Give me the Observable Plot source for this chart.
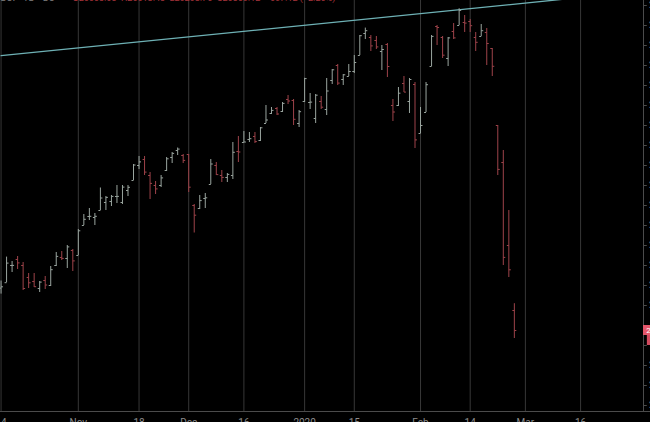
<!DOCTYPE html>
<html><head><meta charset="utf-8">
<script src="https://cdn.jsdelivr.net/npm/d3@7"></script>
<script src="https://cdn.jsdelivr.net/npm/@observablehq/plot@0.6"></script>
<style>
html,body{margin:0;padding:0;background:#000;overflow:hidden;}
#chart svg{display:block;background:#000;}
</style></head><body><div id="chart"></div>
<script>
// Daily bars (trading days), Oct 14 2019 – Feb 27 2020
const dates = ["2019-10-14","2019-10-15","2019-10-16","2019-10-17","2019-10-18","2019-10-21","2019-10-22","2019-10-23","2019-10-24","2019-10-25",
"2019-10-28","2019-10-29","2019-10-30","2019-10-31","2019-11-01","2019-11-04","2019-11-05","2019-11-06","2019-11-07","2019-11-08",
"2019-11-11","2019-11-12","2019-11-13","2019-11-14","2019-11-15","2019-11-18","2019-11-19","2019-11-20","2019-11-21","2019-11-22",
"2019-11-25","2019-11-26","2019-11-27","2019-11-29","2019-12-02","2019-12-03","2019-12-04","2019-12-05","2019-12-06","2019-12-09",
"2019-12-10","2019-12-11","2019-12-12","2019-12-13","2019-12-16","2019-12-17","2019-12-18","2019-12-19","2019-12-20","2019-12-23",
"2019-12-24","2019-12-26","2019-12-27","2019-12-30","2019-12-31","2020-01-02","2020-01-03","2020-01-06","2020-01-07","2020-01-08",
"2020-01-09","2020-01-10","2020-01-13","2020-01-14","2020-01-15","2020-01-16","2020-01-17","2020-01-21","2020-01-22","2020-01-23",
"2020-01-24","2020-01-27","2020-01-28","2020-01-29","2020-01-30","2020-01-31","2020-02-03","2020-02-04","2020-02-05","2020-02-06",
"2020-02-07","2020-02-10","2020-02-11","2020-02-12","2020-02-13","2020-02-14","2020-02-18","2020-02-19","2020-02-20","2020-02-21",
"2020-02-24","2020-02-25","2020-02-26","2020-02-27"];
const open = [26774,26828,27000,27060,27000,26880,26840,26770,26850,26800,
27000,27080,27070,27150,27100,27400,27490,27480,27550,27630,
27640,27690,27630,27750,27850,28000,28060,27900,27800,27800,
27950,28080,28150,28100,28110,27600,27570,27670,27810,28000,
27900,27880,27900,28140,28230,28260,28290,28250,28420,28520,
28570,28540,28660,28650,28420,28640,28630,28470,28640,28560,
28850,29000,28860,28890,28940,29100,29320,29280,29250,29140,
29210,28600,28600,28820,28640,28810,28320,28530,28990,29390,
29280,29070,29340,29400,29430,29440,29280,29290,29330,29170,
28400,28030,27200,26550];
const high = [26845,27084,27040,27090,27030,26920,26920,26840,26890,26990,
27130,27140,27200,27160,27360,27510,27570,27520,27775,27690,
27700,27800,27800,27800,28010,28090,28090,27930,27840,27900,
28080,28130,28175,28110,28110,27610,27700,27720,28060,28030,
27950,27920,28230,28290,28340,28330,28330,28380,28600,28580,
28580,28630,28700,28660,28550,28872,28720,28710,28690,28870,
28960,29010,28910,29010,29100,29300,29374,29300,29290,29200,
29220,28660,28780,28890,28870,28830,28580,28830,29300,29400,
29290,29280,29420,29568,29500,29460,29330,29410,29370,29170,
28400,28150,27550,26618];
const low = [26714,26828,26930,26960,26750,26770,26780,26730,26760,26790,
26990,27050,26970,26940,27100,27400,27450,27400,27550,27550,
27590,27620,27610,27690,27850,27960,27900,27660,27710,27780,
27940,28020,28100,28020,27730,27325,27560,27570,27810,27900,
27830,27830,27860,28030,28230,28230,28220,28240,28420,28510,
28500,28530,28610,28400,28380,28630,28560,28420,28560,28500,
28810,28800,28800,28890,28920,29100,29260,29140,29160,28950,
28880,28440,28590,28730,28520,28170,28320,28530,28990,29200,
29070,28990,29260,29400,29330,29330,29140,29290,29000,28890,
27900,27000,26880,26270];
const close = [26787,27024,27001,27026,26770,26827,26788,26834,26805,26958,
27091,27071,27186,27046,27347,27462,27492,27492,27675,27681,
27691,27691,27784,27782,28005,28036,27934,27821,27766,27876,
28067,28121,28164,28051,27783,27503,27649,27677,28015,27909,
27881,27911,28132,28135,28235,28268,28239,28377,28455,28551,
28515,28621,28645,28462,28538,28869,28634,28703,28583,28745,
28957,28824,28907,28940,29030,29298,29348,29196,29186,29160,
28990,28535,28723,28734,28860,28256,28400,28808,29291,29380,
29103,29276,29276,29551,29424,29398,29232,29348,29220,28992,
27961,27081,26957,26350];

// Time-axis labels
const tickDates = ["2019-10-14","2019-11-01","2019-11-18","2019-12-02","2019-12-16","2020-01-02","2020-01-15","2020-02-03","2020-02-14","2020-03-02","2020-03-16"];
const tickLabels = ["14","Nov","18","Dec","16","2020","15","Feb","14","Mar","16"];
const holidays = ["2019-11-28","2019-12-25","2020-01-01","2020-01-20","2020-02-17"];
// Price-axis ticks
const priceTicks = [25600,25800,26000,26200,26400,26600,26800,27000,27200,27400,27600,27800,28000,28200,28400,28600,28800,29000,29200,29400,29600];
// Trend line anchors
const trendDates = ["2019-10-14","2020-03-16"];
const trendPrices = [29098, 29680];
const headerSymbol = "DJI · 1D · DJ";
const headerValues = "O26553.63  H26618.43  L26268.75  C26350.12  −607.12 (−2.25%)";

// trading-day calendar -> bar index
const hol = new Set(holidays);
const cal = [];
for (let d = new Date(Date.UTC(2019, 9, 14)); cal.length < 130; d.setUTCDate(d.getUTCDate() + 1)) {
  const wd = d.getUTCDay(); const s = d.toISOString().slice(0, 10);
  if (wd === 0 || wd === 6 || hol.has(s)) continue;
  cal.push(s);
}
const idx = new Map(cal.map((s, i) => [s, i]));

const upC = "#9aa59f", downC = "#9e434a", gridC = "#373737", axisC = "#4b4b4b", trendC = "#6eb1b5";
const bars = dates.map((d, k) => ({i: idx.get(d), o: open[k], h: high[k], l: low[k], c: close[k], col: close[k] >= open[k] ? upC : downC}));
const ticks = tickDates.map((d, k) => ({i: idx.get(d), label: tickLabels[k]}));
const trend = trendDates.map((d, k) => ({i: idx.get(d), p: trendPrices[k]}));
const last = bars[bars.length - 1];
const axisLabels = priceTicks.filter(p => Math.abs(p - last.c) > 150);
const xMin = -0.1, xMax = 116.4, yMin = 25540, yMax = 29650, w = 0.36;

const chart = Plot.plot({
  width: 650, height: 422,
  marginTop: 0, marginRight: 7, marginBottom: 11, marginLeft: 0,
  style: {background: "#000", color: "#8a8a8a", fontFamily: "Roboto, 'Noto Sans', sans-serif", fontSize: "10px"},
  x: {domain: [xMin, xMax], axis: null},
  y: {domain: [yMin, yMax], axis: null},
  color: {type: "identity"},
  marks: [
    Plot.ruleX(ticks, {x: "i", stroke: gridC, strokeWidth: 1}),
    Plot.ruleY([yMin], {x1: xMin, x2: xMax + 3, stroke: axisC}),
    Plot.ruleX([xMax], {stroke: axisC}),
    Plot.link(priceTicks, {x1: xMax, x2: xMax + 0.6, y1: d => d, y2: d => d, stroke: axisC}),
    Plot.text(axisLabels, {x: xMax + 1.0, y: d => d, text: d => d.toFixed(2), textAnchor: "start", fill: "#8a8a8a", fontSize: 9}),
    Plot.text(ticks, {x: "i", text: "label", frameAnchor: "bottom", lineAnchor: "top", dy: 7, fill: "#8c8c8c", fontSize: 10}),
    Plot.line(trend, {x: "i", y: "p", stroke: trendC, strokeWidth: 1.3, clip: true}),
    Plot.ruleX(bars, {x: "i", y1: "l", y2: "h", stroke: "col", strokeWidth: 1}),
    Plot.link(bars, {x1: d => d.i - w, x2: "i", y1: "o", y2: "o", stroke: "col", strokeWidth: 1}),
    Plot.link(bars, {x1: "i", x2: d => d.i + w, y1: "c", y2: "c", stroke: "col", strokeWidth: 1}),
    Plot.rect([last], {x1: xMax, x2: xMax + 2, y1: d => d.c - 50, y2: d => d.c + 50, fill: "#e4566a"}),
    Plot.rect([last], {x1: xMax + 0.7, x2: xMax + 2, y1: d => d.c - 150, y2: d => d.c - 50, fill: "#d24a5e"}),
    Plot.text([last], {x: xMax + 0.5, y: "c", text: d => d.c.toFixed(0), textAnchor: "start", fill: "#fff", fontSize: 8}),
    Plot.text([headerSymbol], {frameAnchor: "top-left", text: d => d, lineAnchor: "middle", dy: -2.5, fill: "#7a7a7a", fontSize: 10}),
    Plot.text([headerValues], {frameAnchor: "top-left", text: d => d, lineAnchor: "middle", dx: 72, dy: -2.5, fill: "#a8343c", fontSize: 9})
  ]
});
document.getElementById("chart").appendChild(chart);
</script></body></html>
